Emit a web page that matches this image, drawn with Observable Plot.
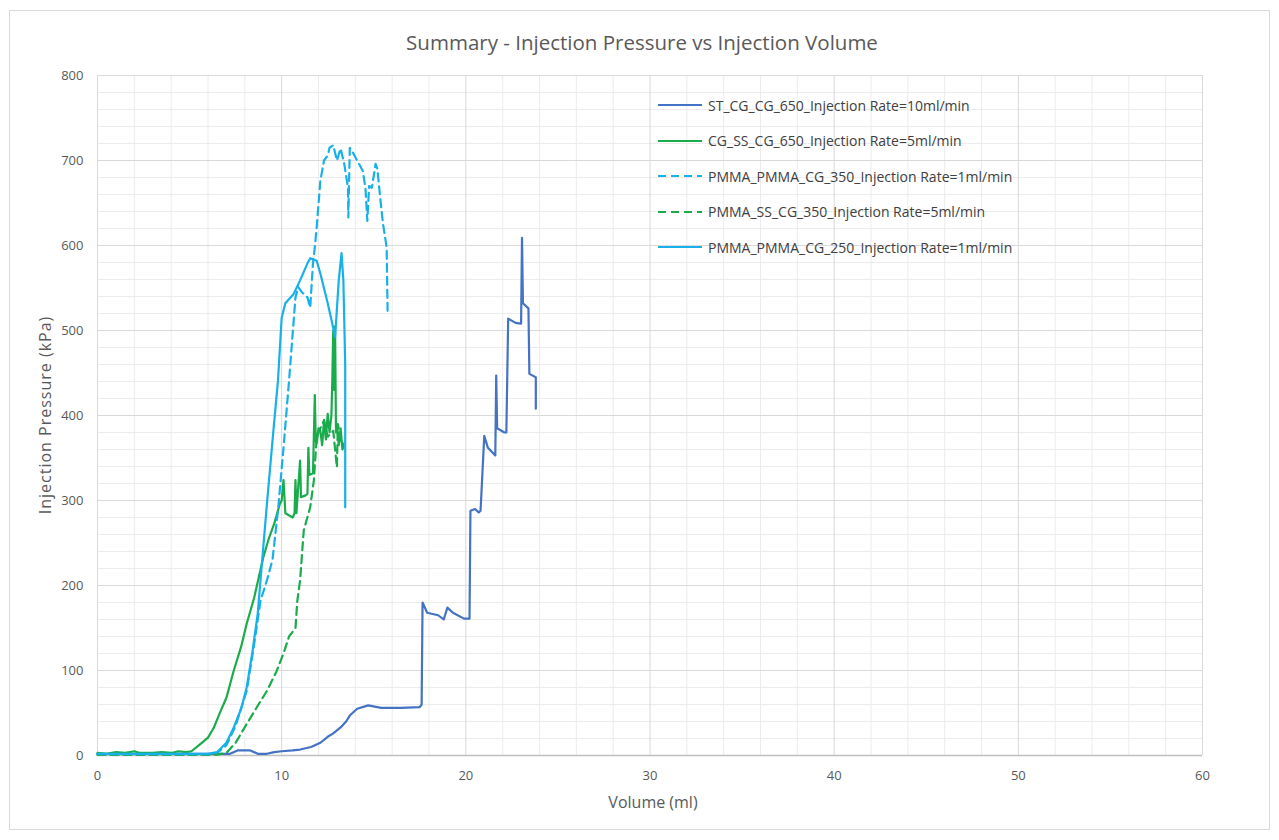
<!DOCTYPE html>
<html>
<head>
<meta charset="utf-8">
<script src="https://cdn.jsdelivr.net/npm/d3@7"></script>
<script src="https://cdn.jsdelivr.net/npm/@observablehq/plot@0.6"></script>
<style>
  body { margin: 0; background: #fff; font-family: "Open Sans", Lato, sans-serif; }
  #chart { position: relative; width: 1279px; height: 840px; overflow: hidden; }
  #frame { position: absolute; left: 9px; top: 10px; width: 1261px; height: 820px; border: 1px solid #d9d9d9; box-sizing: border-box; }
  #plot { position: absolute; left: 0; top: 0; }
  #title { position: absolute; left: 0; top: 28px; width: 1284px; text-align: center; font-size: 20.5px; color: #595959; line-height: 28px; }
  #xlabel { position: absolute; left: 0; width: 1306px; top: 791px; text-align: center; font-size: 16px; color: #595959; line-height: 22px; }
  #ylabel { position: absolute; left: 45px; top: 415px; width: 300px; margin-left: -150px; margin-top: -11px; text-align: center; font-size: 16px; letter-spacing: 1px; color: #595959; line-height: 22px; transform: rotate(-90deg); }
  #legend { position: absolute; left: 657px; top: 95px; }
  .item { position: absolute; left: 0; height: 20px; white-space: nowrap; font-size: 14px; color: #404040; display: flex; align-items: center; }
  .item svg { margin-right: 6px; }
</style>
</head>
<body>
<div id="chart">
  <div id="frame"></div>
  <div id="plot"></div>
  <div id="title">Summary - Injection Pressure vs Injection Volume</div>
  <div id="xlabel">Volume (ml)</div>
  <div id="ylabel">Injection Pressure (kPa)</div>
  <div id="legend"></div>
</div>
<script>
// Tick values
const xTicks = [0, 10, 20, 30, 40, 50, 60];
const yTicks = [0, 100, 200, 300, 400, 500, 600, 700, 800];

// Series names, in drawing / legend order
const seriesNames = [
  "ST_CG_CG_650_Injection Rate=10ml/min",
  "CG_SS_CG_650_Injection Rate=5ml/min",
  "PMMA_PMMA_CG_350_Injection Rate=1ml/min",
  "PMMA_SS_CG_350_Injection Rate=5ml/min",
  "PMMA_PMMA_CG_250_Injection Rate=1ml/min"
];
const seriesColors = ["#4472c4", "#1aab4b", "#18b0ea", "#1aab4b", "#18b0ea"];
const seriesDashed = [false, false, true, true, false];

// [volume (ml), pressure (kPa)]
const stCgCg650 = [
  [0, 2], [3, 2], [6.5, 2], [7.2, 2], [7.6, 6], [8.3, 6], [8.7, 2], [9.2, 2], [9.6, 4],
  [10, 5], [10.6, 6], [11.0, 7], [11.6, 10], [12.1, 15], [12.5, 22], [12.8, 26], [13.2, 33],
  [13.5, 40], [13.7, 47], [14.1, 55], [14.7, 59], [15.4, 56], [16.5, 56], [17.5, 57],
  [17.6, 60], [17.65, 180], [17.9, 168], [18.5, 165], [18.8, 160], [19.0, 174], [19.3, 168],
  [19.9, 161], [20.2, 161], [20.25, 288], [20.5, 290], [20.7, 286], [20.8, 288], [21.0, 376],
  [21.2, 362], [21.6, 353], [21.65, 447], [21.7, 385], [22.1, 380], [22.2, 380], [22.3, 514],
  [22.7, 509], [23.0, 508], [23.05, 609], [23.1, 532], [23.4, 526], [23.45, 449], [23.8, 445],
  [23.8, 408]
];
const cgSsCg650 = [
  [0, 3], [0.5, 2], [1, 4], [1.5, 3], [2, 5], [2.3, 3], [3, 3], [3.5, 4], [4, 3], [4.4, 5],
  [4.8, 4], [5.1, 5], [5.5, 12], [6.0, 21], [6.3, 32], [6.7, 53], [7.0, 68], [7.4, 100],
  [7.8, 128], [8.1, 155], [8.5, 185], [9.0, 233], [9.3, 255], [9.6, 273], [9.9, 296],
  [10.0, 300], [10.1, 324], [10.2, 285], [10.6, 280], [10.7, 285], [10.75, 324], [10.8, 285],
  [11.0, 347], [11.05, 304], [11.3, 306], [11.4, 308], [11.45, 362], [11.5, 330], [11.7, 332],
  [11.8, 424], [11.85, 370], [11.9, 367], [12.0, 385], [12.1, 382], [12.2, 365], [12.3, 395],
  [12.4, 372], [12.5, 402], [12.6, 380], [12.7, 400], [12.75, 441], [12.8, 500], [12.85, 430],
  [12.9, 505], [12.95, 380], [13.0, 390], [13.1, 365], [13.2, 385], [13.3, 360], [13.35, 367]
];
const pmmaPmmaCg350 = [
  [0, 1], [3, 1], [6, 1], [6.5, 3], [7.0, 12], [7.5, 35], [8.1, 76], [8.5, 130], [8.85, 182],
  [9.2, 206], [9.5, 230], [9.8, 288], [10.1, 362], [10.4, 441], [10.75, 539], [10.9, 551],
  [11.1, 545], [11.4, 539], [11.55, 527], [11.7, 579], [11.8, 598], [11.9, 621], [12.1, 676],
  [12.3, 700], [12.5, 706], [12.6, 715], [12.8, 718], [13.0, 700], [13.2, 714], [13.4, 696],
  [13.6, 668], [13.62, 633], [13.7, 715], [13.9, 708], [14.1, 700], [14.4, 688], [14.55, 668],
  [14.65, 629], [14.75, 670], [14.9, 668], [15.1, 696], [15.2, 690], [15.35, 656], [15.5, 626],
  [15.7, 598], [15.75, 523]
];
const pmmaSsCg350 = [
  [0, 1], [3, 1], [6.5, 1], [7.0, 3], [7.5, 15], [8.1, 37], [8.6, 55], [9.2, 76], [9.7, 98],
  [10.1, 120], [10.4, 140], [10.65, 147], [10.75, 150], [10.85, 182], [11.0, 206], [11.2, 265],
  [11.55, 292], [11.75, 324], [11.9, 374], [12.1, 385], [12.3, 394], [12.5, 375], [12.8, 382],
  [13.0, 339], [13.05, 390], [13.2, 372], [13.35, 362]
];
const pmmaPmmaCg250 = [
  [0, 2], [2, 2], [4, 2], [6, 2], [6.5, 4], [7.0, 15], [7.4, 33], [7.8, 55], [8.1, 80],
  [8.4, 120], [8.7, 167], [8.85, 206], [9.2, 296], [9.55, 382], [9.8, 441], [10.0, 515],
  [10.2, 532], [10.65, 543], [11.0, 559], [11.4, 579], [11.55, 585], [11.9, 582], [12.1, 567],
  [12.5, 532], [12.75, 508], [12.9, 492], [13.1, 559], [13.25, 591], [13.35, 559], [13.45, 461],
  [13.45, 292]
];

const seriesData = [stCgCg650, cgSsCg650, pmmaPmmaCg350, pmmaSsCg350, pmmaPmmaCg250];

// Minor gridlines sit between the labelled ticks
const xMinor = d3.range(0, 61, 2).filter(v => !xTicks.includes(v));
const yMinor = d3.range(0, 801, 20).filter(v => !yTicks.includes(v));

const lineMarks = seriesData.map((data, i) => Plot.line(data, {
  stroke: seriesColors[i],
  strokeWidth: 2.2,
  strokeLinejoin: "round",
  strokeDasharray: seriesDashed[i] ? "8,5" : null
}));

const plot = Plot.plot({
  width: 1279,
  height: 840,
  marginLeft: 97,
  marginRight: 77,
  marginTop: 75,
  marginBottom: 85,
  style: { fontFamily: "'Open Sans', Lato, sans-serif", fontSize: "13px", color: "#595959", background: "transparent" },
  x: { domain: [0, 60], label: null },
  y: { domain: [0, 800], label: null },
  marks: [
    Plot.gridX(xMinor, { stroke: "#ececec", strokeOpacity: 1 }),
    Plot.gridY(yMinor, { stroke: "#ececec", strokeOpacity: 1 }),
    Plot.gridX(xTicks, { stroke: "#d9d9d9", strokeOpacity: 1 }),
    Plot.gridY(yTicks, { stroke: "#d9d9d9", strokeOpacity: 1 }),
    Plot.ruleY([0], { stroke: "#bfbfbf", strokeWidth: 1.5 }),
    Plot.axisX(xTicks, { tickSize: 0, tickPadding: 15, fill: "#595959", fontSize: 13 }),
    Plot.axisY(yTicks, { tickSize: 0, tickPadding: 14, fill: "#595959", fontSize: 13 }),
    ...lineMarks
  ]
});
document.getElementById("plot").appendChild(plot);

// Legend inside the plot area, top right
const legend = document.getElementById("legend");
seriesNames.forEach((name, i) => {
  const item = document.createElement("div");
  item.className = "item";
  item.style.top = (i * 35.5) + "px";
  const dash = seriesDashed[i] ? ' stroke-dasharray="8,5"' : "";
  item.innerHTML = `<svg width="45" height="4"><line x1="1" y1="2" x2="45" y2="2" stroke="${seriesColors[i]}" stroke-width="2.2"${dash}/></svg><span>${name}</span>`;
  legend.appendChild(item);
});
</script>
</body>
</html>
